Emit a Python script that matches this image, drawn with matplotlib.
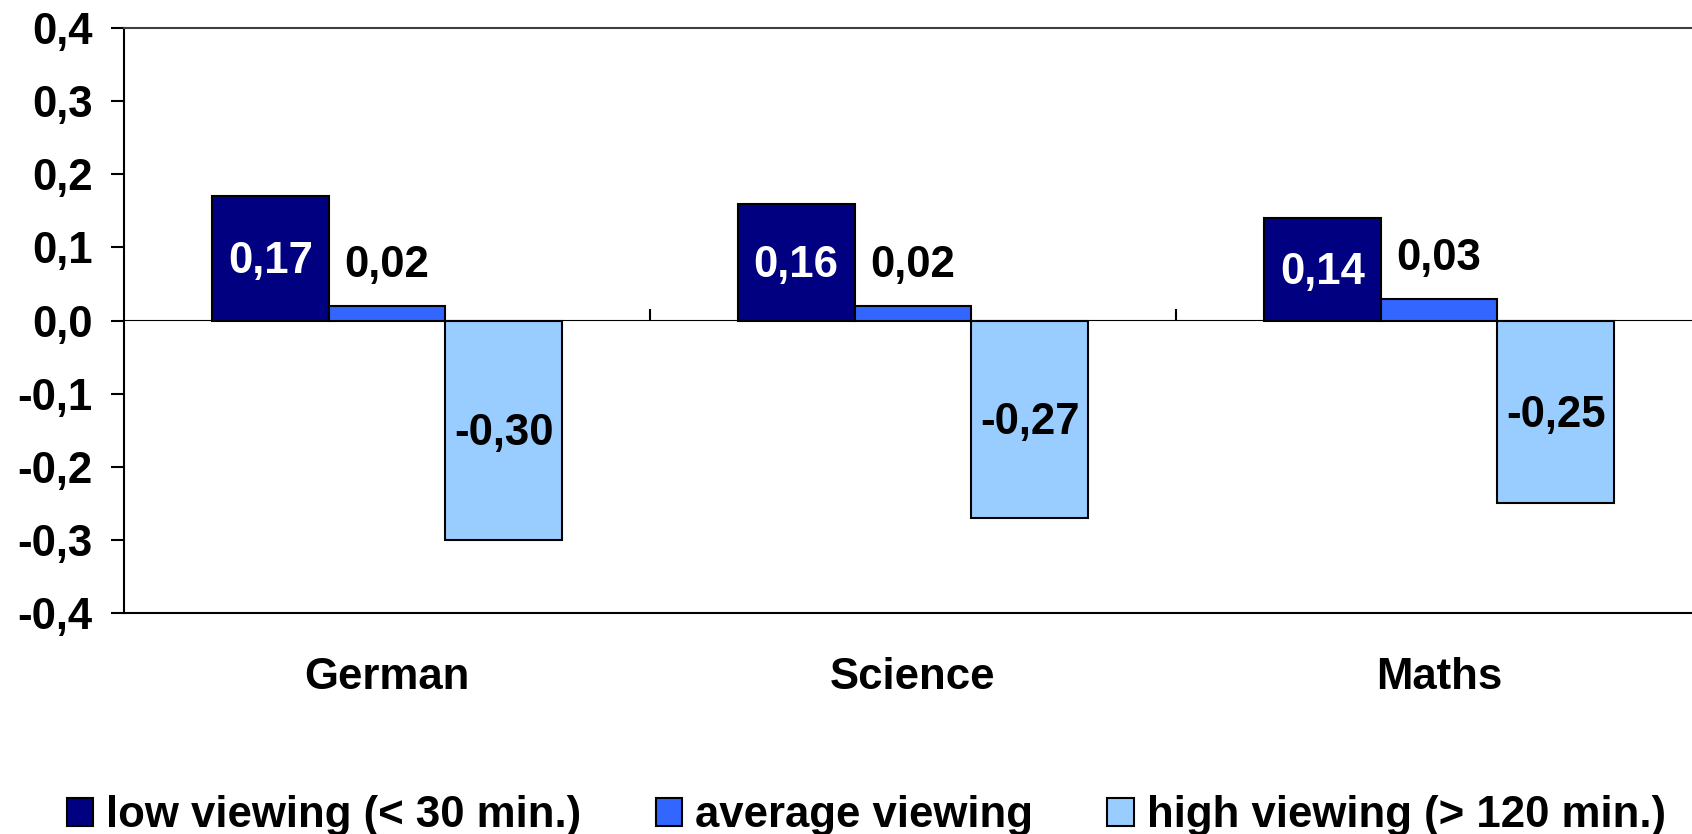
import matplotlib
matplotlib.use("Agg")
import matplotlib.pyplot as plt
import numpy as np

categories = ["German", "Science", "Maths"]
series_names = ["low viewing (< 30 min.)", "average viewing", "high viewing (> 120 min.)"]
low_vals = [0.17, 0.16, 0.14]
avg_vals = [0.02, 0.02, 0.03]
high_vals = [-0.30, -0.27, -0.25]
yticks = [-0.4, -0.3, -0.2, -0.1, 0.0, 0.1, 0.2, 0.3, 0.4]

colors = ["#000080", "#3366FF", "#99CCFF"]
label_colors = ["white", "black", "black"]

plt.rcParams['font.family'] = ['Liberation Sans', 'DejaVu Sans']
plt.rcParams['font.weight'] = 'bold'
FS = 31.5

fig = plt.figure(figsize=(16.92, 8.34), dpi=100)
ax = fig.add_axes([124/1692, 221/834, 1578/1692, 585/834])

x = np.arange(len(categories))
w = 0.222
all_vals = [low_vals, avg_vals, high_vals]
bars_list = []
for i, vals in enumerate(all_vals):
    b = ax.bar(x + (i - 1) * w, vals, width=w, color=colors[i], edgecolor="black",
               linewidth=1.5, label=series_names[i], zorder=2)
    bars_list.append(b)

def fmt(v):
    return f"{v:.2f}".replace(".", ",")

for i, (b, vals) in enumerate(zip(bars_list, all_vals)):
    for rect, v in zip(b, vals):
        cx = rect.get_x() + rect.get_width() / 2
        if i == 1:
            ax.annotate(fmt(v), (cx, v), xytext=(0, 29), textcoords="offset points",
                        ha="center", va="center", fontsize=FS, fontweight="bold",
                        color=label_colors[i], zorder=4)
        else:
            ax.annotate(fmt(v), (cx, v / 2), xytext=(0, -2.5), textcoords="offset points",
                        ha="center", va="center", fontsize=FS, fontweight="bold",
                        color=label_colors[i], zorder=4)

ax.set_xlim(-0.5, len(categories) - 0.5)
ax.set_ylim(-0.4, 0.4)
ax.set_yticks(yticks)
ax.set_yticklabels([f"{t:.1f}".replace(".", ",").replace("-0,0", "0,0") for t in yticks],
                   fontsize=FS, fontweight="bold")
ax.tick_params(axis="y", direction="out", length=9.5, width=1.5, pad=13)

ax.set_xticks(x)
ax.set_xticklabels(categories, fontsize=FS, fontweight="bold")
ax.tick_params(axis="x", length=0, pad=32)

for s in ["top", "bottom", "left"]:
    ax.spines[s].set_linewidth(1.5)
    ax.spines[s].set_color("black")
ax.spines["top"].set_color("#404040")
ax.spines["right"].set_visible(False)

# zero axis line with category boundary ticks
sec = ax.secondary_xaxis(0.5)
sec.set_xticks(x[:-1] + 0.5)
sec.set_xticklabels([])
sec.tick_params(direction="out", length=8, width=1.5)
sec.spines["bottom"].set_linewidth(1.5)

handles = [b for b in bars_list]
leg = fig.legend(handles, series_names, loc="center", bbox_to_anchor=(0.512, 0.022),
                 ncol=3, frameon=False, handlelength=0.6, handleheight=0.6,
                 handletextpad=0.3, columnspacing=1.7,
                 prop={"weight": "bold", "size": FS})

fig.savefig("out.png", dpi=100)
